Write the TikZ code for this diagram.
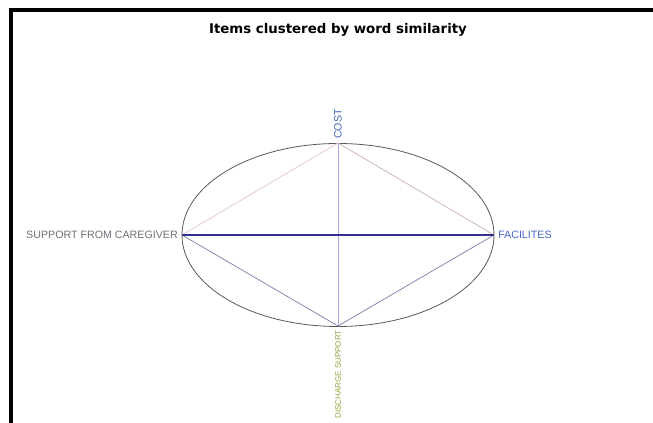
\documentclass[tikz,border=0pt]{standalone}
\usepackage{fontspec}
\setmainfont{Liberation Sans}
\newfontfamily\titlefont{DejaVu Sans}
\usetikzlibrary{positioning}
\definecolor{navyline}{RGB}{50,50,140}
\definecolor{lavline}{RGB}{165,165,215}
\definecolor{pinkline}{RGB}{230,200,210}
\definecolor{greyline}{RGB}{135,135,175}
\definecolor{itemblue}{RGB}{70,100,190}
\definecolor{itemgrey}{RGB}{110,110,120}
\definecolor{itemolive}{RGB}{150,160,60}
\begin{document}
\begin{tikzpicture}[x=0.75pt, y=0.75pt,
    itemlabel/.style={font=\fontsize{8}{9}\selectfont, inner sep=1pt},
    link/.style={line width=0.6pt}]
  \useasboundingbox (0,0) rectangle (653,423);
  % frame
  \draw[line width=2.4pt] (11,0) -- (11,413) -- (653,413);
  % title
  \node[font=\titlefont\bfseries\fontsize{10}{12}\selectfont] (title) at (338,393) {Items clustered by word similarity};
  % ellipse and the four items
  \draw[black!65, line width=0.6pt] (338,188) ellipse (156 and 91.5);
  \coordinate (cost) at (338,280);
  \coordinate (disch) at (338,97);
  \coordinate (carer) at (182,188);
  \coordinate (facil) at (494,188);
  % links
  \draw[link, pinkline] (carer) -- (cost);
  \draw[link, pinkline!90!black] (cost) -- (facil);
  \draw[link, greyline] (carer) -- (disch);
  \draw[link, greyline] (disch) -- (facil);
  \draw[link, lavline] (cost) -- (disch);
  \draw[line width=1.1pt, navyline] (carer) -- (facil);
  % labels
  \node[itemlabel, itemgrey, left=2pt of carer] (carerlbl) {SUPPORT FROM CAREGIVER};
  \node[itemlabel, itemblue, right=2pt of facil] (facillbl) {FACILITES};
  \node[itemlabel, itemblue, rotate=90, anchor=west] (costlbl) at ([yshift=2pt]cost) {COST};
  \node[itemlabel, itemolive, font=\fontsize{6}{7}\selectfont, rotate=90, anchor=east] (dischlbl) at ([yshift=-2pt]disch) {DISCHARGE SUPPORT};
\end{tikzpicture}
\end{document}
